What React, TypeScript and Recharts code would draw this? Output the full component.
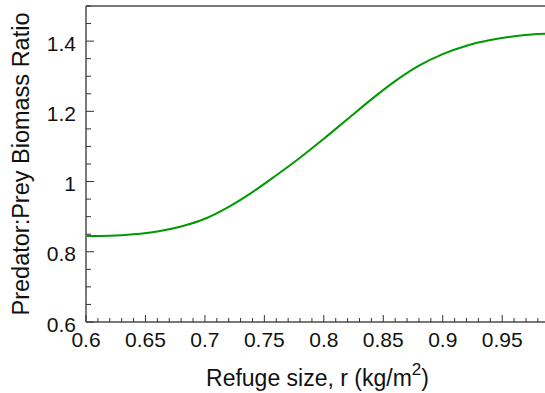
import { LineChart, Line, XAxis, YAxis, ReferenceLine } from 'recharts'

// refuge size r (kg/m^2) and predator:prey biomass ratio
const refuge = [0.6, 0.62, 0.64, 0.66, 0.68, 0.7, 0.72, 0.74, 0.76, 0.78, 0.8, 0.82, 0.84, 0.86, 0.88, 0.9, 0.92, 0.94, 0.96, 0.98, 0.986]
const ratio = [0.845, 0.846, 0.85, 0.858, 0.872, 0.894, 0.928, 0.97, 1.018, 1.068, 1.122, 1.178, 1.234, 1.286, 1.33, 1.363, 1.387, 1.403, 1.414, 1.42, 1.421]

const xMajor = [0.6, 0.65, 0.7, 0.75, 0.8, 0.85, 0.9, 0.95]
const yMajor = [0.6, 0.8, 1, 1.2, 1.4]
const xMinorStep = 0.01
const yMinorStep = 0.05
const xDomain = [0.6, 0.986]
const yDomain = [0.6, 1.5]

const data = refuge.map((r, i) => ({ r, ratio: ratio[i] }))

const steps = (lo: number, hi: number, step: number) => {
    const out: number[] = []
    for (let v = lo; v <= hi + 1e-9; v += step) out.push(Number(v.toFixed(3)))
    return out
}
const xTicks = steps(0.6, 0.98, xMinorStep)
const yTicks = steps(0.6, 1.5, yMinorStep)

const isMajor = (v: number, majors: number[]) => majors.some(m => Math.abs(m - v) < 1e-6)
const fmt = (v: number) => String(Number(v.toFixed(2)))

const FONT = '"Liberation Sans", Arial, sans-serif'
const AXIS = '#7a7a7a'
const TEXT = '#111'

const XTick = (props: any) => {
    const { x, y, payload } = props
    const major = isMajor(payload.value, xMajor)
    return (
        <g>
            <line x1={x} y1={y} x2={x} y2={y - (major ? 7 : 4)} stroke="#333" strokeWidth={1} />
            {major && (
                <text x={x} y={y + 25} textAnchor="middle" fontSize={21} fontFamily={FONT} fill={TEXT}>
                    {fmt(payload.value)}
                </text>
            )}
        </g>
    )
}

const YTick = (props: any) => {
    const { x, y, payload } = props
    const major = isMajor(payload.value, yMajor)
    return (
        <g>
            <line x1={x} y1={y} x2={x + (major ? 8 : 5)} y2={y} stroke="#333" strokeWidth={1} />
            {major && (
                <text x={x - 10} y={y + 9.5} textAnchor="end" fontSize={21} fontFamily={FONT} fill={TEXT}>
                    {fmt(payload.value)}
                </text>
            )}
        </g>
    )
}

const XLabel = (props: any) => {
    const vb = props.viewBox
    return (
        <text x={vb.x + vb.width / 2 + 2} y={vb.y + 64} textAnchor="middle" fontSize={23} fontFamily={FONT} fill={TEXT}>
            <tspan>Refuge size, r (kg/m</tspan>
            <tspan dy={-11} fontSize={17}>2</tspan>
            <tspan dy={11}>)</tspan>
        </text>
    )
}

const YLabel = (props: any) => {
    const vb = props.viewBox
    const cy = vb.y + vb.height / 2
    return (
        <text x={28.5} y={cy} transform={`rotate(-90, 28.5, ${cy})`} textAnchor="middle" fontSize={23.5} fontFamily={FONT} fill={TEXT}>
            Predator:Prey Biomass Ratio
        </text>
    )
}

export default function App() {
    return (
        <div style={{ position: 'absolute', left: 0, top: 0, background: '#fff' }}>
            <LineChart width={545} height={393} data={data} margin={{ top: 6, right: 0, left: 0, bottom: 0 }}>
                <XAxis
                    dataKey="r"
                    type="number"
                    domain={xDomain}
                    ticks={xTicks}
                    interval={0}
                    allowDataOverflow
                    height={71}
                    tickSize={0}
                    tickMargin={0}
                    tickLine={false}
                    tick={<XTick />}
                    axisLine={{ stroke: AXIS, strokeWidth: 2 }}
                    label={<XLabel />}
                />
                <YAxis
                    type="number"
                    domain={yDomain}
                    ticks={yTicks}
                    interval={0}
                    allowDataOverflow
                    width={86}
                    tickSize={0}
                    tickMargin={0}
                    tickLine={false}
                    tick={<YTick />}
                    axisLine={{ stroke: AXIS, strokeWidth: 2 }}
                    label={<YLabel />}
                />
                <ReferenceLine y={1.5} stroke={AXIS} strokeWidth={2} />
                <Line
                    type="monotone"
                    dataKey="ratio"
                    stroke="#009a00"
                    strokeWidth={2}
                    dot={false}
                    isAnimationActive={false}
                />
            </LineChart>
        </div>
    )
}
